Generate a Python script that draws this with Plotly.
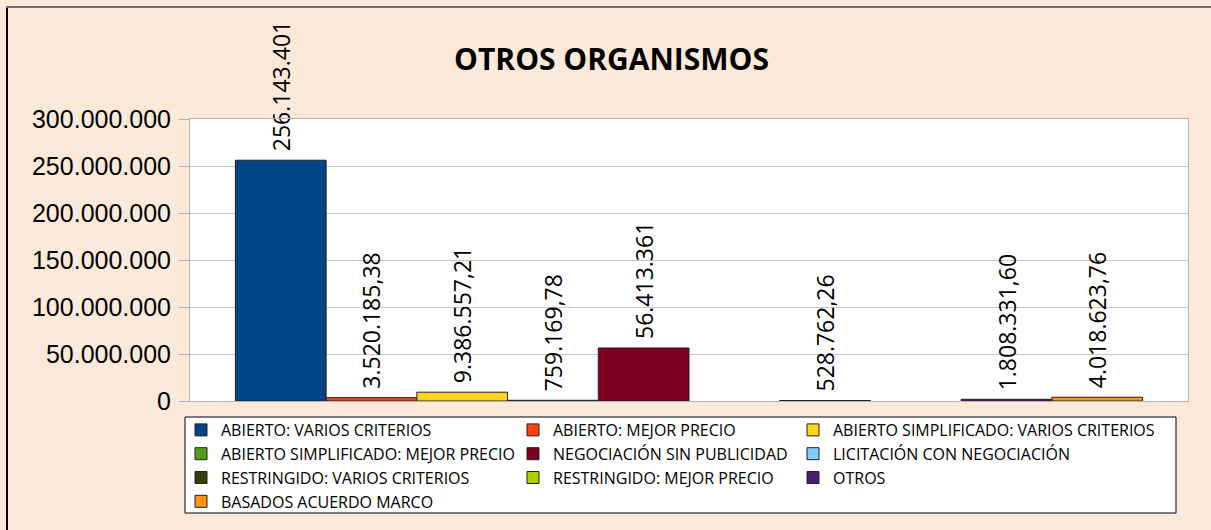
import plotly.graph_objects as go

# Data
categories = ["ABIERTO: VARIOS CRITERIOS", "ABIERTO: MEJOR PRECIO",
              "ABIERTO SIMPLIFICADO: VARIOS CRITERIOS", "ABIERTO SIMPLIFICADO: MEJOR PRECIO",
              "NEGOCIACIÓN SIN PUBLICIDAD", "LICITACIÓN CON NEGOCIACIÓN",
              "RESTRINGIDO: VARIOS CRITERIOS", "RESTRINGIDO: MEJOR PRECIO",
              "OTROS", "BASADOS ACUERDO MARCO"]
values = [256143401, 3520185.38, 9386557.21, 759169.78, 56413361,
          None, 528762.26, None, 1808331.60, 4018623.76]
colors = ["#004586", "#ff420e", "#ffd320", "#579d1c", "#7e0021",
          "#83caff", "#314004", "#aecf00", "#4b1f6f", "#ff950e"]
legend_cols = ["legend", "legend2", "legend3", "legend", "legend2",
               "legend3", "legend", "legend2", "legend3", "legend"]


def fmt_es(v):
    if v is None:
        return ""
    if float(v).is_integer():
        s = f"{int(v):,}"
    else:
        s = f"{v:,.2f}"
    # nbsp in front gives a little gap above the bar
    return "\u00a0" + s.replace(",", "X").replace(".", ",").replace("X", ".")


W, H = 1211, 530
L, R, T, B = 190, 1188, 119, 401  # plot area in px


def px(x):
    return (x - L) / (R - L)


def py(y):
    return (B - y) / (B - T)


fig = go.Figure()
for i, (name, v, c) in enumerate(zip(categories, values, colors)):
    fig.add_trace(go.Bar(
        x=["x"], y=[v], name=name, legend=legend_cols[i],
        marker=dict(color=c, line=dict(color="#222222", width=1)),
        text=[fmt_es(v)], textposition="outside", textangle=-90,
        constraintext="none",
        textfont=dict(family="Open Sans", size=23, color="black"),
        cliponaxis=False,
    ))

leg_common = dict(orientation="v", xref="container", yref="container",
                  yanchor="top", xanchor="left", bgcolor="rgba(0,0,0,0)",
                  font=dict(family="Open Sans", size=16, color="black"),
                  tracegroupgap=0, itemclick=False)
leg_top = 1 - 413 / H

fig.update_layout(
    width=W, height=H,
    paper_bgcolor="#fde9d9", plot_bgcolor="white",
    margin=dict(l=L, r=W - R, t=T, b=H - B, autoexpand=False),
    barmode="group", bargap=0.091,
    title=dict(text="<b>OTROS ORGANISMOS</b>", x=0.505, xanchor="center",
               y=1 - 59 / H, yanchor="middle",
               font=dict(family="Open Sans", size=30, color="black")),
    separators=",.",
    legend=dict(x=181 / W, y=leg_top, **leg_common),
    legend2=dict(x=513 / W, y=leg_top, **leg_common),
    legend3=dict(x=793 / W, y=leg_top, **leg_common),
    shapes=[
        dict(type="rect", xref="paper", yref="paper", layer="above",
             x0=px(185), x1=px(1176), y0=py(513), y1=py(417),
             fillcolor="white", line=dict(color="black", width=1)),
        dict(type="line", xref="paper", yref="paper",
             x0=px(7), x1=px(7), y0=py(7), y1=py(535),
             line=dict(color="black", width=2)),
        dict(type="line", xref="paper", yref="paper",
             x0=px(6), x1=px(1215), y0=py(7), y1=py(7),
             line=dict(color="#707070", width=2)),
    ],
)
fig.update_xaxes(showticklabels=False, showgrid=False, showline=True,
                 mirror=True, linecolor="#b3b3b3", linewidth=1)
fig.update_yaxes(range=[0, 300000000], dtick=50000000, tickformat=",d",
                 showgrid=True, gridcolor="#c8c8c8", zeroline=False,
                 showline=True, mirror=True, linecolor="#b3b3b3",
                 ticks="outside", ticklen=10, tickcolor="#b3b3b3",
                 ticklabelstandoff=3,
                 tickfont=dict(family="Liberation Sans", size=25, color="black"))

fig.write_html("out.html", config={"displayModeBar": False},
               post_script="document.body.style.margin='0';")
